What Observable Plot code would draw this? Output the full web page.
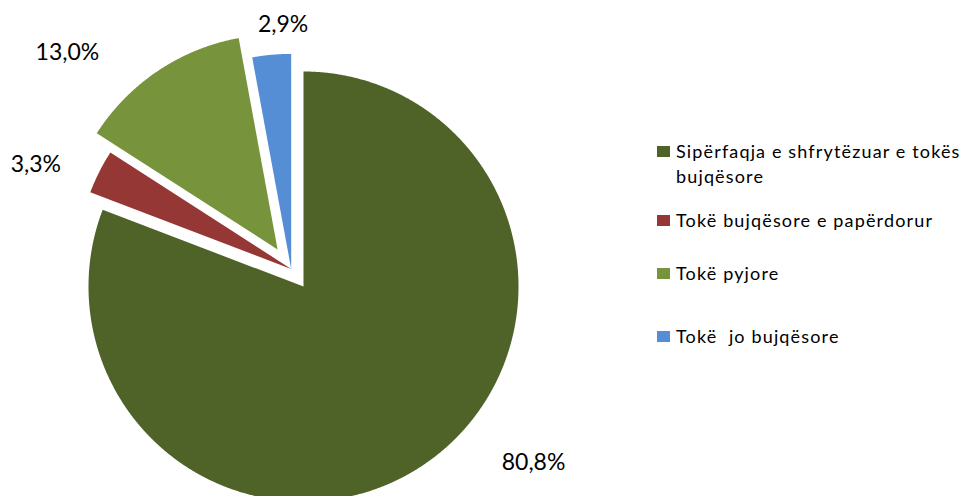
<!DOCTYPE html>
<html>
<head>
<meta charset="utf-8">
<script src="https://cdn.jsdelivr.net/npm/d3@7"></script>
<script src="https://cdn.jsdelivr.net/npm/@observablehq/plot@0.6"></script>
<style>
  html, body { margin: 0; padding: 0; background: #fff; overflow: hidden; }
  #wrap { position: relative; width: 967px; height: 496px; font-family: Lato, "Open Sans", sans-serif; }
  #wrap svg { position: absolute; left: 0; top: 0; }
  .leg-item { position: absolute; left: 657px; }
  .leg-sw { position: absolute; left: 0; width: 13px; height: 11px; }
  .leg-tx { position: absolute; left: 19px; width: 289px; font-size: 18px; line-height: 25px; letter-spacing: 1.15px; color: #000; white-space: pre-wrap; }
</style>
</head>
<body>
<div id="wrap"></div>
<script>
// ---- data ----
const categories = [
  "Sipërfaqja e shfrytëzuar e tokës bujqësore",
  "Tokë bujqësore e papërdorur",
  "Tokë pyjore",
  "Tokë  jo bujqësore"
];
const values = [80.8, 3.3, 13.0, 2.9];
const valueLabels = ["80,8%", "3,3%", "13,0%", "2,9%"];
const colors = ["#4F6228", "#953735", "#77933C", "#558ED5"];

// ---- layout / style ----
const explode = [0, 0.1, 0.21, 0.1];          // radial offset (in radius units)
const explodeAngle = 325 * Math.PI / 180;      // direction of offset (clockwise from 12 o'clock)
const labelX = [1.07, -1.245, -1.098, -0.095];  // label positions in radius units
const labelY = [-0.82, 0.565, 1.09, 1.22];
const legendBaselines = [158, 227, 280, 343];

// ---- build slice polygons ----
const pie = d3.pie().sort(null).value(d => d)(values);
const rows = [];
pie.forEach((p, i) => {
  const cat = categories[i];
  const ox = explode[i] * Math.sin(explodeAngle);
  const oy = explode[i] * Math.cos(explodeAngle);
  const n = Math.max(2, Math.ceil((p.endAngle - p.startAngle) / 0.004));
  rows.push({cat, x: ox, y: oy});
  for (let k = 0; k <= n; k++) {
    const a = p.startAngle + (p.endAngle - p.startAngle) * k / n;
    rows.push({cat, x: ox + Math.sin(a), y: oy + Math.cos(a)});
  }
  rows.push({cat, x: ox, y: oy});
});
const labelData = categories.map((c, i) => ({cat: c, text: valueLabels[i], x: labelX[i], y: labelY[i]}));

const chart = Plot.plot({
  width: 967,
  height: 496,
  marginTop: 0, marginRight: 0, marginBottom: 0, marginLeft: 0,
  style: {fontFamily: "Lato, 'Open Sans', sans-serif", background: "transparent"},
  x: {domain: [-1, 1], range: [88, 518], axis: null},
  y: {domain: [-1, 1], range: [501, 71], axis: null},
  color: {domain: categories, range: colors},
  marks: [
    Plot.line(rows, {x: "x", y: "y", z: "cat", fill: "cat", stroke: "none", curve: "linear"}),
    Plot.text(labelData, {x: "x", y: "y", text: "text", fontSize: 23, fill: "#000"})
  ]
});

const wrap = document.getElementById("wrap");
wrap.appendChild(chart);

// ---- legend ----
categories.forEach((c, i) => {
  const item = document.createElement("div");
  item.className = "leg-item";
  item.style.top = (legendBaselines[i] - 19.5) + "px";
  const sw = document.createElement("div");
  sw.className = "leg-sw";
  sw.style.background = colors[i];
  sw.style.top = (19.5 - 12) + "px";
  const tx = document.createElement("div");
  tx.className = "leg-tx";
  tx.style.top = "0px";
  tx.textContent = c;
  item.appendChild(sw);
  item.appendChild(tx);
  wrap.appendChild(item);
});
</script>
</body>
</html>
